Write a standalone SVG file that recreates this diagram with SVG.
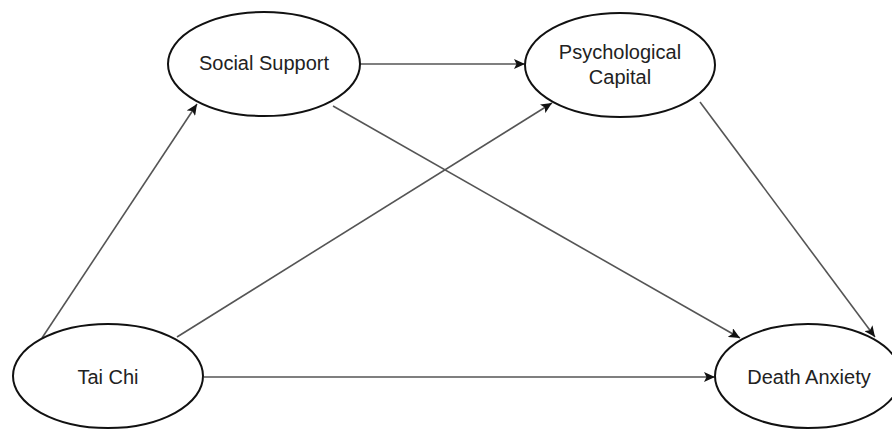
<svg xmlns="http://www.w3.org/2000/svg" width="892" height="430" viewBox="0 0 892 430">
<defs>
<style>
.node ellipse{fill:#fff;stroke:#111;stroke-width:2}
.node text{font-family:"Liberation Sans",Arial,sans-serif;font-size:20px;fill:#222;text-anchor:middle;dominant-baseline:central}
.edge{stroke:#555;stroke-width:1.6;fill:none;marker-end:url(#arr)}
</style>
<marker id="arr" markerUnits="userSpaceOnUse" markerWidth="12" markerHeight="10" refX="11" refY="5" orient="auto">
<path d="M0,0 L11,5 L0,10 L2.5,5 Z" fill="#111"/>
</marker>
</defs>
<rect width="892" height="430" fill="#fff"/>
<g id="connectors">
<line class="edge" x1="42" y1="338" x2="197" y2="104"/>
<line class="edge" x1="360" y1="64" x2="525" y2="64"/>
<line class="edge" x1="333" y1="106" x2="740" y2="338"/>
<line class="edge" x1="177" y1="337" x2="552" y2="103"/>
<line class="edge" x1="700" y1="102" x2="875" y2="337"/>
<line class="edge" x1="204" y1="377" x2="715" y2="377"/>
</g>
<g id="social-support" class="node">
<ellipse cx="264" cy="64" rx="96" ry="52"/>
<text x="264" y="63">Social Support</text>
</g>
<g id="psychological-capital" class="node">
<ellipse cx="620" cy="65" rx="95" ry="52"/>
<text x="620" y="52">Psychological</text>
<text x="620" y="77">Capital</text>
</g>
<g id="tai-chi" class="node">
<ellipse cx="108" cy="376" rx="95" ry="52"/>
<text x="108" y="377">Tai Chi</text>
</g>
<g id="death-anxiety" class="node">
<ellipse cx="808" cy="376" rx="93" ry="52"/>
<text x="809" y="377">Death Anxiety</text>
</g>
</svg>
